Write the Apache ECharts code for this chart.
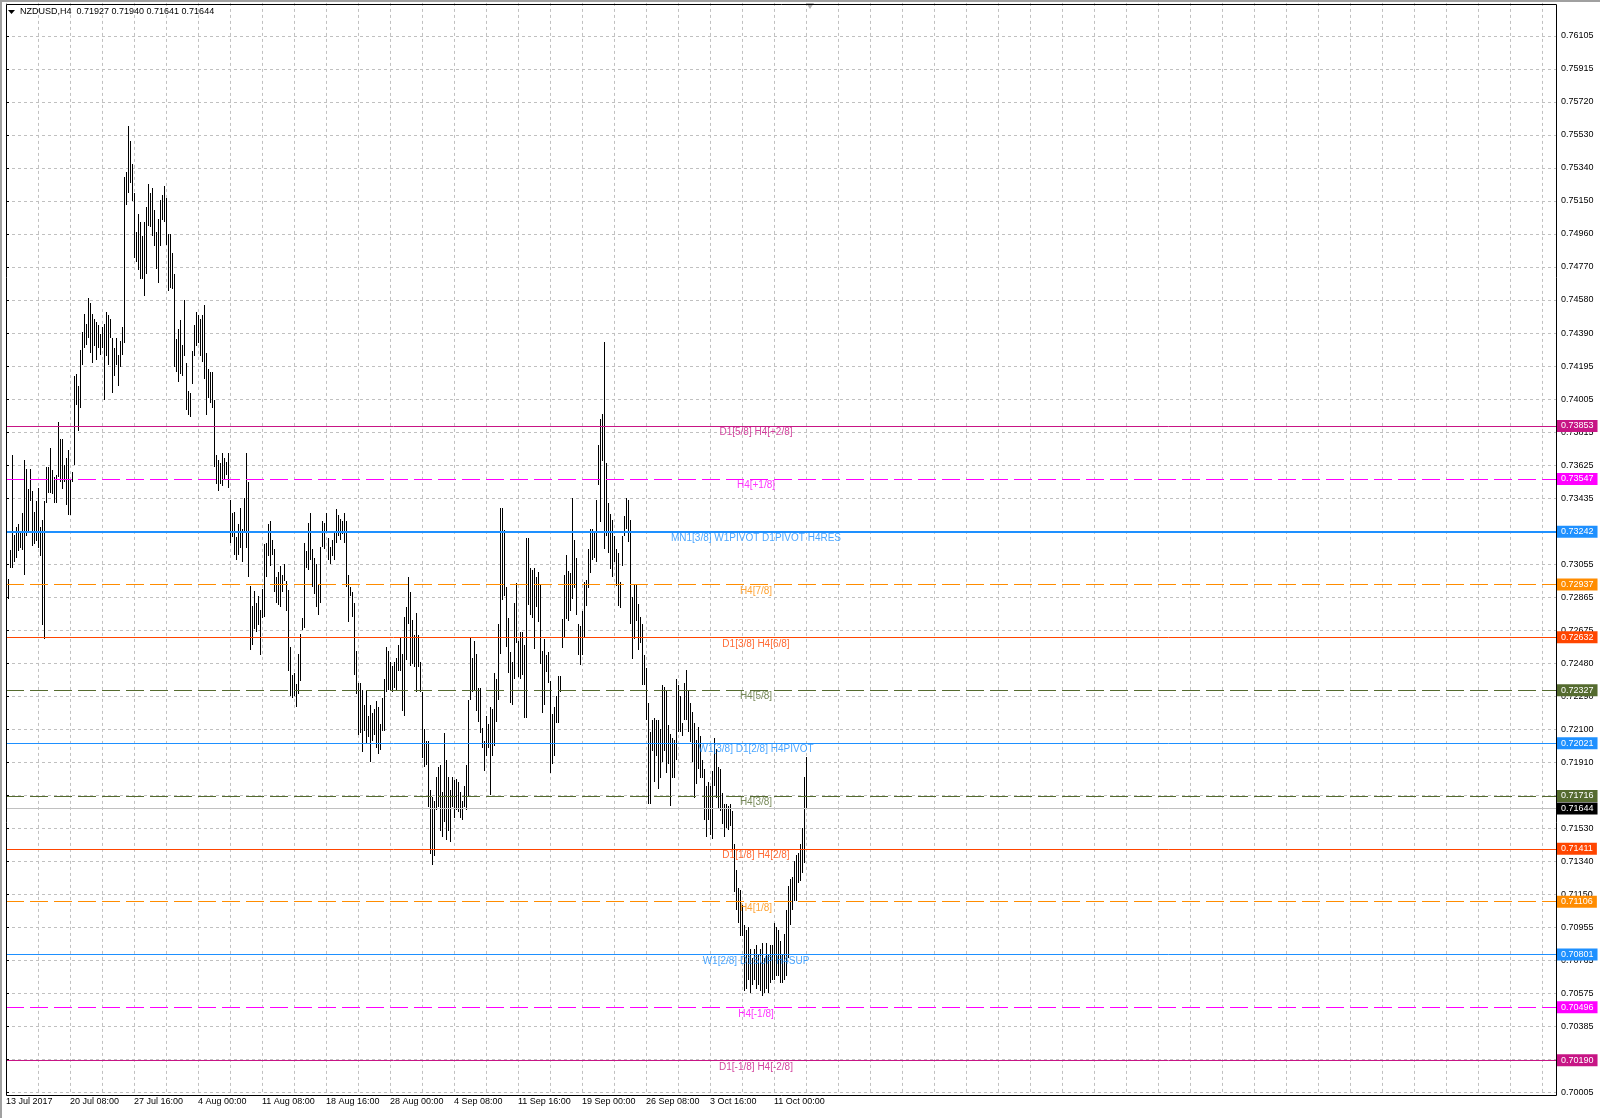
<!DOCTYPE html>
<html>
<head>
<meta charset="utf-8">
<script src="https://cdn.jsdelivr.net/npm/echarts@6/dist/echarts.min.js"></script>
<style>
html,body{margin:0;padding:0;background:#fff;}
#chart{width:1600px;height:1118px;}
</style>
</head>
<body>
<div id="chart"></div>
<script>
// ---------- data ----------
const symbolName = 'NZDUSD,H4';
const lastOHLC = ['0.71927', '0.71940', '0.71641', '0.71644'];

// H4 bar highs (bar 0 = 13 Jul 2017 00:00)
const barHigh = [
  0.72701,0.72970,0.73139,0.73686,0.73225,0.73268,0.73288,0.73249,0.73352,0.73656, // 0
  0.73607,0.73487,0.73607,0.73477,0.73358,0.73418,0.73497,0.73268,0.73308,0.73418, // 10
  0.73617,0.73617,0.73726,0.73597,0.73557,0.73567,0.73875,0.73776,0.73776,0.73627, // 20
  0.73666,0.73716,0.73547,0.73587,0.74144,0.74154,0.74084,0.74293,0.74393,0.74502, // 30
  0.74443,0.74592,0.74562,0.74502,0.74472,0.74452,0.74433,0.74383,0.74423,0.74443, // 40
  0.74512,0.74492,0.74472,0.74363,0.74303,0.74363,0.74263,0.74343,0.74423,0.75288, // 50
  0.75318,0.75587,0.75497,0.75368,0.75199,0.74970,0.75079,0.75029,0.74950,0.75029, // 60
  0.75119,0.75248,0.75199,0.75229,0.75099,0.74970,0.75050,0.75159,0.75189,0.75239, // 70
  0.75169,0.74960,0.74960,0.74850,0.74731,0.74353,0.74413,0.74462,0.74323,0.74582, // 80
  0.74214,0.74054,0.74045,0.74283,0.74433,0.74512,0.74492,0.74472,0.74492,0.74552, // 90
  0.74273,0.74184,0.74164,0.74164,0.74005,0.73686,0.73656,0.73637,0.73696,0.73666, // 100
  0.73647,0.73696,0.73428,0.73348,0.73358,0.73209,0.73288,0.73378,0.73258,0.73438, // 110
  0.73696,0.73527,0.72930,0.72811,0.72900,0.72831,0.72870,0.72791,0.72910,0.73169, // 120
  0.73179,0.73284,0.73305,0.73197,0.73142,0.72980,0.73012,0.73045,0.72991,0.73056, // 130
  0.72958,0.72904,0.72578,0.72415,0.72426,0.72360,0.72534,0.72654,0.72741,0.73175, // 140
  0.73132,0.73295,0.73349,0.73142,0.73088,0.73056,0.72936,0.73153,0.73305,0.73295, // 150
  0.73349,0.73208,0.73153,0.73197,0.73240,0.73371,0.73338,0.73316,0.73305,0.73349, // 160
  0.73305,0.72990,0.72925,0.72893,0.72828,0.72556,0.72371,0.72371,0.72328,0.72241, // 170
  0.72328,0.72176,0.72241,0.72198,0.72219,0.72263,0.72230,0.72132,0.72284,0.72393, // 180
  0.72578,0.72556,0.72491,0.72469,0.72491,0.72513,0.72589,0.72632,0.72534,0.72751, // 190
  0.72806,0.72980,0.72893,0.72730,0.72643,0.72773,0.72643,0.72491,0.72317,0.72100, // 200
  0.72035,0.72035,0.71752,0.71708,0.71687,0.71828,0.71882,0.71893,0.71741,0.72078, // 210
  0.71926,0.71828,0.71752,0.71828,0.71806,0.71817,0.71795,0.71741,0.71687,0.71774, // 220
  0.71893,0.72273,0.72632,0.72513,0.72610,0.72534,0.72339,0.72339,0.72111,0.72035, // 230
  0.72176,0.72132,0.72230,0.72219,0.72426,0.72393,0.72708,0.73381,0.73381,0.73251, // 240
  0.72925,0.72741,0.72545,0.72491,0.72828,0.72947,0.72610,0.72665,0.72665,0.72589, // 250
  0.73208,0.73208,0.73034,0.73023,0.73034,0.72980,0.73012,0.72936,0.72556,0.72622, // 260
  0.72533,0.72546,0.72381,0.72190,0.72228,0.72292,0.72406,0.72406,0.72737,0.72991, // 270
  0.73105,0.73016,0.73003,0.73436,0.73194,0.73093,0.72711,0.72698,0.72787,0.72953, // 280
  0.72965,0.73143,0.73258,0.73258,0.73245,0.73423,0.73741,0.73893,0.73919,0.74338, // 290
  0.73639,0.73410,0.73347,0.73308,0.73220,0.73143,0.73118,0.72953,0.73220,0.73334, // 300
  0.73436,0.73423,0.73308,0.72864,0.72940,0.72940,0.72826,0.72749,0.72711,0.72533, // 310
  0.72457,0.72254,0.72088,0.72152,0.72165,0.72152,0.72152,0.72101,0.72355,0.72343, // 320
  0.72330,0.72127,0.72076,0.72050,0.72038,0.72393,0.72355,0.72292,0.72139,0.72368, // 330
  0.72444,0.72330,0.72254,0.72203,0.72139,0.72038,0.72114,0.72063,0.71923,0.71872, // 340
  0.71771,0.71796,0.71771,0.71860,0.72050,0.71987,0.71885,0.71872,0.71733,0.71669, // 350
  0.71669,0.71656,0.71669,0.71631,0.71440,0.71288,0.71186,0.71174,0.71085,0.70970, // 360
  0.70945,0.70958,0.70830,0.70779,0.70830,0.70856,0.70805,0.70830,0.70868,0.70779, // 370
  0.70868,0.70805,0.70856,0.70856,0.70983,0.70958,0.70945,0.70881,0.70805,0.70919, // 380
  0.71059,0.71199,0.71237,0.71250,0.71339,0.71377,0.71389,0.71440,0.71532,0.71826, // 390
  0.71940                                                                           // 400
];

// H4 bar lows
const barLow = [
  0.72455,0.72851,0.73030,0.73030,0.73069,0.73089,0.73129,0.73149,0.73139,0.72990, // 0
  0.73219,0.73249,0.73418,0.73159,0.73169,0.73189,0.73149,0.73099,0.72701,0.72622, // 10
  0.73408,0.73467,0.73467,0.73458,0.73408,0.73408,0.73557,0.73527,0.73487,0.73527, // 20
  0.73398,0.73338,0.73338,0.73527,0.73627,0.73975,0.73826,0.73955,0.74204,0.74303, // 30
  0.74323,0.74363,0.74273,0.74214,0.74313,0.74234,0.74303,0.74263,0.74303,0.74005, // 40
  0.74254,0.74204,0.74363,0.74045,0.74144,0.74204,0.74084,0.74194,0.74263,0.74333, // 50
  0.75129,0.75199,0.75258,0.75149,0.74821,0.74801,0.74751,0.74701,0.74701,0.74602, // 60
  0.74731,0.75010,0.75000,0.74950,0.74890,0.74761,0.74681,0.74890,0.75040,0.75029, // 70
  0.74900,0.74632,0.74651,0.74641,0.74194,0.74164,0.74104,0.74154,0.74144,0.74254, // 80
  0.73945,0.73915,0.73905,0.74094,0.74254,0.74313,0.74333,0.74254,0.74224,0.74124, // 90
  0.73915,0.74015,0.73985,0.73955,0.73617,0.73517,0.73477,0.73517,0.73507,0.73547, // 100
  0.73567,0.73497,0.73179,0.73209,0.73109,0.73079,0.73109,0.73149,0.73069,0.73249, // 110
  0.73149,0.72980,0.72559,0.72588,0.72681,0.72661,0.72701,0.72530,0.72741,0.72751, // 120
  0.72980,0.73099,0.73045,0.73110,0.72893,0.72828,0.72817,0.72806,0.72893,0.72958, // 130
  0.72784,0.72437,0.72295,0.72284,0.72295,0.72230,0.72306,0.72382,0.72676,0.72686, // 140
  0.73034,0.73023,0.73077,0.72925,0.72882,0.72806,0.72762,0.72828,0.73153,0.73142, // 150
  0.73240,0.73077,0.73056,0.73099,0.73077,0.73175,0.73219,0.73197,0.73229,0.73175, // 160
  0.72925,0.72719,0.72871,0.72751,0.72415,0.72306,0.72067,0.72078,0.71969,0.72089, // 170
  0.72024,0.72056,0.71915,0.72035,0.72067,0.71991,0.71958,0.71980,0.72089,0.72089, // 180
  0.72317,0.72328,0.72328,0.72317,0.72339,0.72328,0.72437,0.72437,0.72208,0.72176, // 190
  0.72502,0.72708,0.72469,0.72480,0.72458,0.72317,0.72458,0.72317,0.71937,0.71882, // 200
  0.71893,0.71654,0.71383,0.71317,0.71372,0.71633,0.71654,0.71513,0.71480,0.71567, // 210
  0.71459,0.71513,0.71448,0.71654,0.71589,0.71633,0.71622,0.71589,0.71578,0.71654, // 220
  0.71633,0.71708,0.72273,0.72317,0.72328,0.72208,0.72143,0.72078,0.71991,0.71861, // 230
  0.71948,0.71991,0.71719,0.71948,0.72002,0.72143,0.72273,0.72534,0.72849,0.72871, // 240
  0.72578,0.72426,0.72252,0.72241,0.72393,0.72600,0.72404,0.72393,0.72415,0.72165, // 250
  0.72165,0.72817,0.72762,0.72741,0.72567,0.72806,0.72719,0.72480,0.72198,0.72241, // 260
  0.72432,0.72368,0.71847,0.71898,0.71949,0.72139,0.72139,0.72317,0.72571,0.72635, // 270
  0.72737,0.72724,0.72787,0.72851,0.72915,0.72762,0.72533,0.72470,0.72533,0.72635, // 280
  0.72813,0.72915,0.73004,0.73080,0.73092,0.73067,0.73512,0.73296,0.73652,0.73143, // 290
  0.73220,0.73118,0.73029,0.72978,0.73067,0.72927,0.72813,0.72800,0.73042,0.73220, // 300
  0.73258,0.73181,0.72711,0.72508,0.72622,0.72724,0.72559,0.72597,0.72355,0.72355, // 310
  0.72152,0.71669,0.71669,0.71974,0.71796,0.71949,0.71758,0.71822,0.71910,0.71974, // 320
  0.71847,0.71898,0.71656,0.71822,0.71822,0.71923,0.72088,0.72088,0.72063,0.72152, // 330
  0.72152,0.72088,0.72025,0.71910,0.71707,0.71783,0.71872,0.71822,0.71822,0.71580, // 340
  0.71479,0.71580,0.71491,0.71466,0.71771,0.71707,0.71644,0.71631,0.71555,0.71479, // 350
  0.71529,0.71517,0.71542,0.71402,0.71161,0.71059,0.70983,0.70907,0.70907,0.70589, // 360
  0.70601,0.70652,0.70576,0.70627,0.70652,0.70601,0.70627,0.70589,0.70563,0.70576, // 370
  0.70601,0.70576,0.70639,0.70652,0.70652,0.70678,0.70678,0.70639,0.70639,0.70652, // 380
  0.70678,0.70779,0.70970,0.71059,0.71110,0.71110,0.71212,0.71224,0.71272,0.71330, // 390
  0.71641                                                                           // 400
];

// time axis labels (every 32 H4 bars)
const timeTickBars = [0, 32, 64, 96, 128, 160, 192, 224, 256, 288, 320, 352, 384];
const timeTickLabels = ['13 Jul 2017', '20 Jul 08:00', '27 Jul 16:00', '4 Aug 00:00', '11 Aug 08:00',
  '18 Aug 16:00', '28 Aug 00:00', '4 Sep 08:00', '11 Sep 16:00', '19 Sep 00:00',
  '26 Sep 08:00', '3 Oct 16:00', '11 Oct 00:00'];

// price axis labels, bottom to top
const priceTickLabels = ['0.70005', '0.70195', '0.70385', '0.70575', '0.70765', '0.70955', '0.71150',
  '0.71340', '0.71530', '0.71720', '0.71910', '0.72100', '0.72290', '0.72480', '0.72675', '0.72865',
  '0.73055', '0.73245', '0.73435', '0.73625', '0.73815', '0.74005', '0.74195', '0.74390', '0.74580',
  '0.74770', '0.74960', '0.75150', '0.75340', '0.75530', '0.75720', '0.75915', '0.76105'];

// Murrey / pivot levels
const levelPrices = [0.73853, 0.73547, 0.73242, 0.72937, 0.72632, 0.72327, 0.72021,
  0.71716, 0.71411, 0.71106, 0.70801, 0.70496, 0.70190];
const levelNames = ['D1[5/8] H4[+2/8]', 'H4[+1/8]', 'MN1[3/8] W1PIVOT D1PIVOT H4RES', 'H4[7/8]',
  'D1[3/8] H4[6/8]', 'H4[5/8]', 'W1[3/8] D1[2/8] H4PIVOT', 'H4[3/8]', 'D1[1/8] H4[2/8]',
  'H4[1/8]', 'W1[2/8] D1SUP H4SUP', 'H4[-1/8]', 'D1[-1/8] H4[-2/8]'];
const levelLabelBar = 375;   // bar where the level texts are anchored
const currentPrice = 0.71644;
const shiftBar = 400;        // last bar (chart-shift marker)

// ---------- styles ----------
const VIOLET = '#C71585', MAGENTA = '#FF00FF', BLUE = '#1E90FF', ORANGE = '#FF8C00',
      ORED = '#FF4500', OLIVE = '#556B2F';
const DASH = [18, 6];
const levelStyles = [
  {c: VIOLET, t: 'solid', w: 1}, {c: MAGENTA, t: DASH, w: 1}, {c: BLUE, t: 'solid', w: 2},
  {c: ORANGE, t: DASH, w: 1}, {c: ORED, t: 'solid', w: 1}, {c: OLIVE, t: DASH, w: 1},
  {c: BLUE, t: 'solid', w: 1}, {c: OLIVE, t: DASH, w: 1}, {c: ORED, t: 'solid', w: 1},
  {c: ORANGE, t: DASH, w: 1}, {c: BLUE, t: 'solid', w: 1}, {c: MAGENTA, t: DASH, w: 1},
  {c: VIOLET, t: 'solid', w: 1}
];

const FONT = '"Liberation Sans", Arial, sans-serif';
const Y_MIN = 0.70005, Y_STEP = 0.00190625, Y_MAX = Y_MIN + 33 * Y_STEP;
const X_MAX = 775;

const chart = echarts.init(document.getElementById('chart'), null, {renderer: 'canvas'});

const tagLabel = (bg, fg, txt) => ({
  show: true, position: 'end', distance: 1, color: fg, backgroundColor: bg,
  padding: [1, 4, 1, 4], fontSize: 9, lineHeight: 10, fontFamily: FONT,
  formatter: txt
});

const markData = levelPrices.map((p, k) => ({
  yAxis: p,
  lineStyle: {color: levelStyles[k].c, type: levelStyles[k].t, width: levelStyles[k].w},
  label: tagLabel(levelStyles[k].c, '#fff', p.toFixed(5))
}));
markData.push({
  yAxis: currentPrice,
  lineStyle: {color: '#C0C0C0', type: 'solid', width: 1},
  label: tagLabel('#000', '#fff', currentPrice.toFixed(5))
});

const option = {
  animation: false,
  backgroundColor: '#fff',
  textStyle: {fontFamily: FONT},
  title: {
    text: symbolName + '  ' + lastOHLC.join(' '),
    left: 20, top: 7, padding: 0,
    textStyle: {fontSize: 9, fontWeight: 'normal', color: '#000', fontFamily: FONT}
  },
  grid: {left: 6, right: 44, top: 2.9, bottom: 25.7, show: false},
  xAxis: {
    type: 'value', min: 0, max: X_MAX, interval: 16,
    axisLine: {show: false}, axisTick: {show: false},
    splitLine: {show: true, showMaxLine: false, lineStyle: {color: '#C0C0C0', type: [3, 3], width: 1}},
    axisLabel: {
      show: true, fontSize: 9, color: '#000', align: 'left', margin: 5, fontFamily: FONT,
      showMinLabel: true, showMaxLabel: false, hideOverlap: false,
      formatter: v => {
        const k = timeTickBars.indexOf(Math.round(v));
        return k >= 0 ? timeTickLabels[k] : '';
      }
    }
  },
  yAxis: {
    type: 'value', position: 'right', min: Y_MIN, max: Y_MAX, interval: Y_STEP,
    axisLine: {show: false},
    axisTick: {show: true, length: 3, lineStyle: {color: '#000'}},
    splitLine: {show: true, showMaxLine: false, lineStyle: {color: '#C0C0C0', type: [3, 3], width: 1}},
    axisLabel: {
      fontSize: 9, color: '#000', margin: 5, fontFamily: FONT, showMaxLabel: false,
      formatter: v => priceTickLabels[Math.round((v - Y_MIN) / Y_STEP)] || ''
    }
  },
  graphic: [
    {type: 'rect', z: 100, silent: true, shape: {x: 0, y: 0, width: 1600, height: 2}, style: {fill: '#A0A0A0'}},
    {type: 'rect', z: 100, silent: true, shape: {x: 0, y: 0, width: 2, height: 1118}, style: {fill: '#A0A0A0'}},
    {type: 'rect', z: 100, silent: true, shape: {x: 6.5, y: 4.5, width: 1550, height: 1091},
      style: {fill: null, stroke: '#000', lineWidth: 1}},
    {type: 'polygon', z: 100, silent: true, shape: {points: [[8, 10], [15, 10], [11.5, 14]]}, style: {fill: '#000'}}
  ],
  series: [
    {
      name: 'bars', type: 'custom', z: 3, silent: true, clip: true,
      data: barHigh.map((h, i) => [i, barLow[i], h]),
      encode: {x: 0, y: [1, 2]},
      renderItem: (params, api) => {
        const lo = api.coord([api.value(0), api.value(1)]);
        const hi = api.coord([api.value(0), api.value(2)]);
        const x = Math.round(lo[0]);
        return {
          type: 'rect',
          shape: {x: x, y: Math.round(hi[1]), width: 1, height: Math.max(1, Math.round(lo[1]) - Math.round(hi[1]))},
          style: {fill: '#000'}
        };
      }
    },
    {
      name: 'levels', type: 'scatter', z: 5, silent: true,
      symbolSize: 1, itemStyle: {color: 'rgba(0,0,0,0)'},
      data: levelPrices.map((p, k) => ({
        value: [levelLabelBar, p],
        label: {
          show: true, position: 'bottom', distance: 1, fontSize: 10, fontFamily: FONT,
          color: levelStyles[k].c, formatter: levelNames[k]
        }
      })),
      markLine: {silent: true, symbol: ['none', 'none'], animation: false, precision: 5, data: markData}
    },
    {
      name: 'shift', type: 'scatter', z: 6, silent: true,
      symbol: 'triangle', symbolRotate: 180, symbolSize: [8, 6], symbolOffset: [0, 3],
      itemStyle: {color: '#A0A0A0'},
      data: [[shiftBar + 2, Y_MAX]]
    }
  ]
};

chart.setOption(option);
</script>
</body>
</html>
